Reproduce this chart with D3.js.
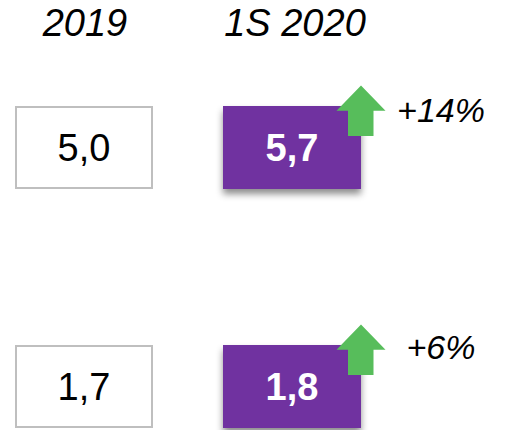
<!DOCTYPE html>
<html>
<head>
<meta charset="utf-8">
<script src="https://cdn.jsdelivr.net/npm/d3@7"></script>
<style>
  html, body { margin: 0; padding: 0; background: #fff; }
  text { font-family: "Liberation Sans", Arial, sans-serif; }
</style>
</head>
<body>
<div id="chart"></div>
<script>
// data
var periods = ["2019", "1S 2020"];
var rows = ["a", "b"];
var values2019 = ["5,0", "1,7"];
var values2020 = ["5,7", "1,8"];
var changes = ["+14%", "+6%"];

window.onload = () => {
  var width = 515,
    height = 430;

  var svg = d3.select("#chart").append("svg")
    .attr("width", width)
    .attr("height", height);

  var defs = svg.append("defs");
  var f = defs.append("filter")
    .attr("id", "shadow")
    .attr("x", "-20%").attr("y", "-20%")
    .attr("width", "140%").attr("height", "150%");
  f.append("feDropShadow")
    .attr("dx", 0).attr("dy", 5)
    .attr("stdDeviation", 3.5)
    .attr("flood-color", "#000")
    .attr("flood-opacity", 0.45);

  // columns and rows
  var x = d3.scaleBand()
    .domain(periods)
    .range([15, 361])
    .paddingInner(70 / 208);

  var y = d3.scaleBand()
    .domain(rows)
    .range([106, 428])
    .paddingInner((239 - 83) / 239);

  var bw = x.bandwidth(),
    bh = y.bandwidth();

  // column headers
  svg.selectAll(".head")
    .data(periods)
    .enter().append("text")
    .attr("class", "head")
    .attr("x", d => x(d) + bw / 2 + (d === periods[1] ? 3 : 1))
    .attr("y", 36)
    .attr("text-anchor", "middle")
    .style("font-size", "38px")
    .style("font-style", "italic")
    .text(d => d);

  // 2019 boxes
  var g1 = svg.selectAll(".prev")
    .data(rows)
    .enter().append("g")
    .attr("class", "prev")
    .attr("transform", d => "translate(" + x(periods[0]) + "," + y(d) + ")");
  g1.append("rect")
    .attr("x", 1).attr("y", 1)
    .attr("width", bw - 2).attr("height", bh - 2)
    .attr("fill", "#fff")
    .attr("stroke", "#bfbfbf")
    .attr("stroke-width", 2);
  g1.append("text")
    .attr("x", bw / 2)
    .attr("y", bh / 2 + 13)
    .attr("text-anchor", "middle")
    .style("font-size", "38px")
    .attr("fill", "#000")
    .text((d, i) => values2019[i]);

  // 2020 boxes
  var g2 = svg.selectAll(".cur")
    .data(rows)
    .enter().append("g")
    .attr("class", "cur")
    .attr("transform", d => "translate(" + x(periods[1]) + "," + y(d) + ")");
  g2.append("rect")
    .attr("width", bw).attr("height", bh)
    .attr("fill", "#7030a0")
    .attr("filter", "url(#shadow)");
  g2.append("text")
    .attr("x", bw / 2)
    .attr("y", bh / 2 + 13)
    .attr("text-anchor", "middle")
    .style("font-size", "38px")
    .style("font-weight", "bold")
    .attr("fill", "#fff")
    .text((d, i) => values2020[i]);

  // up arrows
  var ax = bw; // apex over right edge
  var arrow = d3.path();
  arrow.moveTo(ax, -20.5);
  arrow.lineTo(ax + 24.5, 4.7);
  arrow.lineTo(ax + 12.5, 4.7);
  arrow.lineTo(ax + 12.5, 30);
  arrow.lineTo(ax - 13, 30);
  arrow.lineTo(ax - 13, 4.7);
  arrow.lineTo(ax - 24.5, 4.7);
  arrow.closePath();
  g2.append("path")
    .attr("d", arrow.toString())
    .attr("fill", "#57bd5b");

  // change labels
  g2.append("text")
    .attr("x", 441 - x(periods[1]))
    .attr("y", (d, i) => i === 0 ? 16 : 14)
    .attr("text-anchor", "middle")
    .style("font-size", "34px")
    .style("font-style", "italic")
    .attr("fill", "#000")
    .text((d, i) => changes[i]);
};
</script>
</body>
</html>
